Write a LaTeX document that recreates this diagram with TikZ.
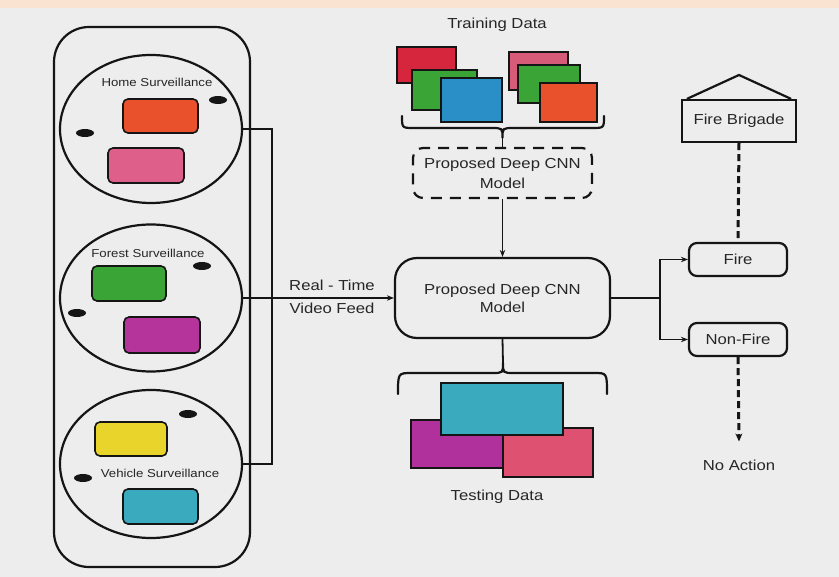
\documentclass[tikz,border=0pt]{standalone}
\usepackage{fontspec}
\setmainfont{Liberation Sans}[FakeStretch=1.15]
\usetikzlibrary{shapes.geometric,arrows.meta}
\definecolor{bg}{HTML}{EDEDED}
\definecolor{ink}{HTML}{151515}
\definecolor{txt}{HTML}{262626}
\definecolor{cOrange}{HTML}{E8512B}
\definecolor{cPink}{HTML}{DE5F8A}
\definecolor{cGreen}{HTML}{3AA436}
\definecolor{cMagenta}{HTML}{B5349B}
\definecolor{cYellow}{HTML}{E9D42C}
\definecolor{cCyan}{HTML}{3AAABF}
\definecolor{cRed}{HTML}{D6263D}
\definecolor{cBlue}{HTML}{2B8FC7}
\definecolor{cRose}{HTML}{D65B78}
\definecolor{cTMag}{HTML}{B0319B}
\definecolor{cTPink}{HTML}{DF5170}
\definecolor{peach}{HTML}{FBE3D2}
\tikzset{
  lbl/.style={text=txt,font=\fontsize{14.5}{18}\selectfont,inner sep=1pt,align=center},
  smlbl/.style={text=txt,font=\fontsize{11.5}{14}\selectfont,inner sep=1pt},
  panelbox/.style={draw=ink,line width=2.2pt,rounded corners=35pt,inner sep=0pt},
  zone/.style={draw=ink,line width=2.2pt,ellipse,inner sep=0pt},
  crect/.style={draw=ink,line width=1.6pt,rounded corners=5pt,inner sep=0pt},
  srect/.style={draw=ink,line width=1.8pt,inner sep=0pt},
  eye/.style={fill=ink,ellipse,inner sep=0pt,minimum width=18pt,minimum height=8pt},
  modelbox/.style={draw=ink,line width=2.2pt,rounded corners=22pt,lbl,inner sep=0pt},
  dashbox/.style={draw=ink,line width=2.2pt,rounded corners=10pt,dash pattern=on 11pt off 8pt,lbl,inner sep=0pt},
  outbox/.style={draw=ink,line width=2.2pt,rounded corners=8pt,lbl,inner sep=0pt},
  conn/.style={draw=ink,line width=1.8pt},
  tip/.style={-{Stealth[length=7pt,width=5.5pt]}},
  thickdash/.style={draw=ink,line width=3pt,dash pattern=on 7pt off 4pt},
  bracestyle/.style={draw=ink,line width=2.2pt,line cap=round}
}
\begin{document}
\begin{tikzpicture}[x=1pt,y=-1pt]
\useasboundingbox (0,0) rectangle (839,577);
\fill[bg] (0,0) rectangle (839,577);
\fill[peach] (0,0) rectangle (839,8);

% left panel
\node[panelbox,minimum width=196pt,minimum height=540pt] (panel) at (152,297) {};
\node[zone,minimum width=182pt,minimum height=148pt] (home) at (151,129) {};
\node[zone,minimum width=182pt,minimum height=147pt] (forest) at (151,298) {};
\node[zone,minimum width=182pt,minimum height=148pt] (vehicle) at (151,464) {};

\node[smlbl] (homel) at (157,82) {Home Surveillance};
\node[crect,fill=cOrange,minimum width=75pt,minimum height=34pt] (h1) at (160.5,116) {};
\node[crect,fill=cPink,minimum width=76pt,minimum height=35pt] (h2) at (146,165.5) {};
\node[eye] (he1) at (218,100) {};
\node[eye] (he2) at (85,133) {};

\node[smlbl] (forestl) at (148,253) {Forest Surveillance};
\node[crect,fill=cGreen,minimum width=74pt,minimum height=35pt] (f1) at (129,283.5) {};
\node[crect,fill=cMagenta,minimum width=76pt,minimum height=36pt] (f2) at (162,335) {};
\node[eye] (fe1) at (202,266) {};
\node[eye] (fe2) at (77,313) {};

\node[crect,fill=cYellow,minimum width=72pt,minimum height=34pt] (v1) at (131,439) {};
\node[smlbl] (vehiclel) at (160,473) {Vehicle Surveillance};
\node[crect,fill=cCyan,minimum width=75pt,minimum height=35pt] (v2) at (160.5,506.5) {};
\node[eye] (ve1) at (188,414) {};
\node[eye] (ve2) at (83,478) {};

% bus
\coordinate (bus) at (272,298);
\draw[conn] (home.east) -- (home.east -| bus) -- (vehicle.east -| bus) -- (vehicle.east);

% main model
\node[modelbox,minimum width=215pt,minimum height=80pt] (main) at (502.5,298) {Proposed Deep CNN\\Model};
\draw[conn,tip] (forest.east) -- (main.west);
\node[lbl] (rt1) at (332,285) {Real - Time};
\node[lbl] (rt2) at (332,308) {Video Feed};

% training data
\node[lbl] (trainl) at (497,25) {Training Data};
\node[srect,fill=cRed,minimum width=59pt,minimum height=36pt] (t1) at (426.5,65) {};
\node[srect,fill=cGreen,minimum width=65pt,minimum height=40pt] (t2) at (444.5,90) {};
\node[srect,fill=cBlue,minimum width=61pt,minimum height=44pt] (t3) at (471.5,100) {};
\node[srect,fill=cRose,minimum width=59pt,minimum height=38pt] (t4) at (538.5,71) {};
\node[srect,fill=cGreen,minimum width=62pt,minimum height=38pt] (t5) at (549,84) {};
\node[srect,fill=cOrange,minimum width=57pt,minimum height=39pt] (t6) at (568.5,102.5) {};

\node[dashbox,minimum width=179pt,minimum height=50pt] (dmodel) at (502.5,173) {Proposed Deep CNN\\[2pt]Model};

% top brace
\coordinate (tb) at (502.5,138);
\draw[bracestyle] (402,116) .. controls (402,128) .. (414,128) -- (491,128) .. controls (502.5,128) .. (tb)
  .. controls (502.5,128) .. (514,128) -- (592,128) .. controls (604,128) .. (604,116);
\draw[conn] (tb) -- (dmodel.north);
\draw[conn,tip] (dmodel.south) -- (main.north);

% testing data
\coordinate (bb) at (503,363);
\draw[conn] (main.south) -- (bb);
\draw[bracestyle] (398,394) .. controls (398,373) .. (412,373) -- (492,373) .. controls (503,373) .. (bb)
  .. controls (503,373) .. (514,373) -- (594,373) .. controls (607,373) .. (607,394);
\node[srect,fill=cTMag,minimum width=93pt,minimum height=48pt] (d1) at (457.5,444) {};
\node[srect,fill=cTPink,minimum width=90pt,minimum height=49pt] (d2) at (548,452.5) {};
\node[srect,fill=cCyan,minimum width=122pt,minimum height=52pt] (d3) at (502,409) {};
\node[lbl] (testl) at (497,497) {Testing Data};

% right side
\node[draw=ink,line width=2.2pt,minimum width=114pt,minimum height=42pt,lbl,inner sep=0pt] (fb) at (739,121) {Fire Brigade};
\coordinate (roof) at (739,75);
\draw[draw=ink,line width=2.2pt,line join=miter] ([xshift=6pt]fb.north west) -- (roof) -- ([xshift=-6pt]fb.north east);
\node[outbox,minimum width=98pt,minimum height=33pt] (fire) at (738,259.5) {Fire};
\node[outbox,minimum width=98pt,minimum height=33pt] (nonfire) at (738,339.5) {Non-Fire};
\node[lbl] (noact) at (739,465) {No Action};
\draw[thickdash] (fb.south) -- (fire.north);
\draw[thickdash,-{Stealth[length=8pt,width=7pt]}] (nonfire.south) -- ([yshift=17pt]noact.north);
\coordinate (rj) at (660,298);
\draw[conn] (main.east) -- (main.east -| rj);
\draw[conn,tip] (main.east -| rj) |- (fire.west);
\draw[conn,tip] (main.east -| rj) |- (nonfire.west);
\end{tikzpicture}
\end{document}
